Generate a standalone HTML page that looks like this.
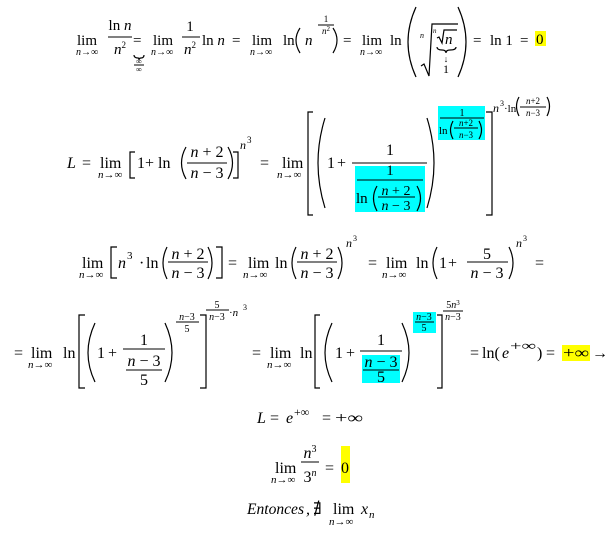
<!DOCTYPE html>
<html><head><meta charset="utf-8"><style>
html,body{margin:0;padding:0;background:#fff;}
svg{display:block;}
text{font-family:"Liberation Serif","DejaVu Serif",serif;fill:#000;}
.i{font-style:italic;}
path{fill:none;stroke:#000;stroke-width:1.2;}
line{stroke:#000;stroke-width:1;}
</style></head><body>
<svg width="614" height="535" viewBox="0 0 614 535" xmlns="http://www.w3.org/2000/svg">
<rect width="614" height="535" fill="#fff"/>

<!-- ROW 1 -->
<g font-size="15">
<text x="77" y="45">lim</text>
<text x="76" y="55" font-size="10"><tspan class="i">n</tspan>→∞</text>
<text x="120" y="30" text-anchor="middle">ln <tspan class="i">n</tspan></text>
<line x1="108" y1="37" x2="132" y2="37"/>
<text x="120" y="54" text-anchor="middle"><tspan class="i">n</tspan><tspan font-size="9" dy="-6">2</tspan></text>
<text x="133" y="45">=</text>
<path d="M134,55 Q134,58 138,58 Q139,58 139,60 Q139,58 141,58 Q144,58 144,55" stroke-width="0.8"/>
<text x="139" y="64" font-size="8" text-anchor="middle">∞</text>
<line x1="134" y1="65" x2="144" y2="65"/>
<text x="139" y="72" font-size="8" text-anchor="middle">∞</text>
<text x="153" y="45">lim</text>
<text x="151" y="55" font-size="10"><tspan class="i">n</tspan>→∞</text>
<text x="190" y="31" text-anchor="middle">1</text>
<line x1="182" y1="37" x2="200" y2="37"/>
<text x="190" y="54" text-anchor="middle"><tspan class="i">n</tspan><tspan font-size="9" dy="-6">2</tspan></text>
<text x="202" y="45">ln <tspan class="i">n</tspan></text>
<text x="232" y="45">=</text>
<text x="252" y="45">lim</text>
<text x="250" y="55" font-size="10"><tspan class="i">n</tspan>→∞</text>
<text x="283" y="45">ln</text>
<path d="M300,28 Q292,40 300,53"/>
<text x="305" y="45" class="i">n</text>
<text x="326" y="22" font-size="9" text-anchor="middle">1</text>
<line x1="318" y1="25" x2="334" y2="25"/>
<text x="326" y="34" font-size="9" text-anchor="middle"><tspan class="i">n</tspan><tspan font-size="7" dy="-3">2</tspan></text>
<path d="M333,28 Q341,40 333,53"/>
<text x="343" y="45">=</text>
<text x="362" y="45">lim</text>
<text x="360" y="55" font-size="10"><tspan class="i">n</tspan>→∞</text>
<text x="390" y="45">ln</text>
<path d="M416,7 Q400,42 416,77" stroke-width="1.4"/>
<text x="420" y="38" font-size="8" class="i">n</text>
<path d="M421,66 L424,64 L429,76 L432,24 L458,24" stroke-width="1"/>
<text x="433" y="33" font-size="7" class="i">n</text>
<path d="M437,38 L439,37 L442,43 L444,30 L457,30" stroke-width="0.9"/>
<text x="445" y="44" class="i">n</text>
<path d="M437,47 Q437,50 442,50 Q446,50 446,53 Q446,50 450,50 Q456,50 456,47" stroke-width="0.8"/>
<text x="446" y="62" font-size="9" text-anchor="middle">↓</text>
<text x="446" y="73" font-size="12" text-anchor="middle">1</text>
<path d="M458,7 Q474,42 458,77" stroke-width="1.4"/>
<text x="473" y="45">=</text>
<text x="490" y="45">ln 1</text>
<text x="520" y="45">=</text>
<rect x="535" y="31" width="11" height="15" fill="#ffff00"/>
<text x="536" y="44" fill="#222">0</text>
</g>

<!-- ROW 2 -->
<g font-size="16">
<text x="67" y="168" class="i">L</text>
<text x="82" y="168">=</text>
<text x="100" y="168">lim</text>
<text x="98" y="178" font-size="11"><tspan class="i">n</tspan>→∞</text>
<path d="M135,152 H130 V178 H135"/>
<text x="137" y="168">1</text>
<text x="145" y="168">+</text>
<text x="158" y="168">ln</text>
<path d="M186,147 Q177,163 186,179"/>
<text x="207" y="157" text-anchor="middle"><tspan class="i">n</tspan> + 2</text>
<line x1="187" y1="163" x2="227" y2="163"/>
<text x="207" y="178" text-anchor="middle"><tspan class="i">n</tspan> − 3</text>
<path d="M228,147 Q237,163 228,179"/>
<path d="M233,152 H238 V178 H233"/>
<text x="240" y="149" font-size="12" class="i">n</text>
<text x="247" y="143" font-size="9">3</text>
<text x="260" y="168">=</text>
<text x="282" y="168">lim</text>
<text x="277" y="178" font-size="11"><tspan class="i">n</tspan>→∞</text>
<path d="M313,112 H308 V215 H313" stroke-width="1.3"/>
<path d="M325,118 Q311,163 325,208" stroke-width="1.4"/>
<text x="327" y="168">1</text>
<text x="337" y="168">+</text>
<text x="390" y="155" text-anchor="middle">1</text>
<line x1="352" y1="163" x2="427" y2="163"/>
<rect x="355" y="166" width="70" height="46" fill="#00ffff"/>
<text x="390" y="175" text-anchor="middle" font-size="15">1</text>
<line x1="357" y1="180" x2="423" y2="180"/>
<text x="356" y="203" font-size="15">ln</text>
<path d="M377,186 Q370,198 377,211"/>
<text x="396" y="195" font-size="14" text-anchor="middle"><tspan class="i">n</tspan> + 2</text>
<line x1="378" y1="197" x2="415" y2="197"/>
<text x="396" y="210" font-size="14" text-anchor="middle"><tspan class="i">n</tspan> − 3</text>
<path d="M417,186 Q424,198 417,211"/>
<path d="M427,118 Q441,163 427,208" stroke-width="1.4"/>
<rect x="438" y="106" width="47" height="34" fill="#00ffff"/>
<text x="462" y="116" font-size="10" text-anchor="middle">1</text>
<line x1="440" y1="118" x2="484" y2="118"/>
<text x="439" y="134" font-size="11">ln</text>
<path d="M453,121 Q448,130 453,139" stroke-width="0.9"/>
<text x="466" y="126" font-size="9" text-anchor="middle"><tspan class="i">n</tspan>+2</text>
<line x1="454" y1="128" x2="478" y2="128"/>
<text x="466" y="138" font-size="9" text-anchor="middle"><tspan class="i">n</tspan>−3</text>
<path d="M479,121 Q484,130 479,139" stroke-width="0.9"/>
<path d="M486,112 H492 V215 H486" stroke-width="1.3"/>
<text x="493" y="112" font-size="12" class="i">n</text>
<text x="500" y="106" font-size="8">3</text>
<text x="504" y="112" font-size="11">·ln</text>
<path d="M519,97 Q514,106 519,116" stroke-width="0.9"/>
<text x="533" y="104" font-size="9" text-anchor="middle"><tspan class="i">n</tspan>+2</text>
<line x1="520" y1="107" x2="546" y2="107"/>
<text x="533" y="116" font-size="9" text-anchor="middle"><tspan class="i">n</tspan>−3</text>
<path d="M547,97 Q552,106 547,116" stroke-width="0.9"/>
</g>

<!-- ROW 3 -->
<g font-size="16">
<text x="82" y="268">lim</text>
<text x="79" y="278" font-size="11"><tspan class="i">n</tspan>→∞</text>
<path d="M117,247 H111 V278 H117"/>
<text x="118" y="268" class="i">n</text>
<text x="127" y="259" font-size="11">3</text>
<text x="139" y="268">·</text>
<text x="146" y="268">ln</text>
<path d="M167,247 Q159,263 167,279"/>
<text x="188" y="259" text-anchor="middle"><tspan class="i">n</tspan> + 2</text>
<line x1="168" y1="262" x2="208" y2="262"/>
<text x="188" y="278" text-anchor="middle"><tspan class="i">n</tspan> − 3</text>
<path d="M208,247 Q216,263 208,279"/>
<path d="M216,247 H222 V278 H216"/>
<text x="228" y="268">=</text>
<text x="248" y="268">lim</text>
<text x="243" y="278" font-size="11"><tspan class="i">n</tspan>→∞</text>
<text x="275" y="268">ln</text>
<path d="M296,247 Q288,263 296,279"/>
<text x="317" y="259" text-anchor="middle"><tspan class="i">n</tspan> + 2</text>
<line x1="297" y1="262" x2="337" y2="262"/>
<text x="317" y="278" text-anchor="middle"><tspan class="i">n</tspan> − 3</text>
<path d="M338,247 Q346,263 338,279"/>
<text x="346" y="247" font-size="12" class="i">n</text>
<text x="353" y="241" font-size="8">3</text>
<text x="368" y="268">=</text>
<text x="386" y="268">lim</text>
<text x="382" y="278" font-size="11"><tspan class="i">n</tspan>→∞</text>
<text x="416" y="268">ln</text>
<path d="M437,247 Q429,263 437,279"/>
<text x="439" y="268">1</text>
<text x="448" y="268">+</text>
<text x="487" y="259" text-anchor="middle">5</text>
<line x1="467" y1="262" x2="508" y2="262"/>
<text x="487" y="278" text-anchor="middle"><tspan class="i">n</tspan> − 3</text>
<path d="M509,247 Q517,263 509,279"/>
<text x="516" y="247" font-size="12" class="i">n</text>
<text x="523" y="241" font-size="8">3</text>
<text x="535" y="268">=</text>
</g>

<!-- ROW 4 -->
<g font-size="16">
<text x="14" y="358">=</text>
<text x="31" y="358">lim</text>
<text x="28" y="368" font-size="11"><tspan class="i">n</tspan>→∞</text>
<text x="63" y="358">ln</text>
<path d="M85,315 H79 V388 H85" stroke-width="1.3"/>
<path d="M95,323 Q81,353 95,382" stroke-width="1.4"/>
<text x="97" y="358">1</text>
<text x="108" y="358">+</text>
<text x="144" y="345" text-anchor="middle">1</text>
<line x1="123" y1="349" x2="165" y2="349"/>
<text x="144" y="366" text-anchor="middle"><tspan class="i">n</tspan> − 3</text>
<line x1="126" y1="370" x2="162" y2="370"/>
<text x="144" y="385" text-anchor="middle">5</text>
<path d="M165,323 Q179,353 165,382" stroke-width="1.4"/>
<text x="187" y="320" font-size="10" text-anchor="middle"><tspan class="i">n</tspan>−3</text>
<line x1="176" y1="322" x2="199" y2="322"/>
<text x="187" y="332" font-size="10" text-anchor="middle">5</text>
<path d="M200,315 H206 V388 H200" stroke-width="1.3"/>
<text x="217" y="308" font-size="10" text-anchor="middle">5</text>
<line x1="206" y1="310" x2="229" y2="310"/>
<text x="217" y="320" font-size="10" text-anchor="middle"><tspan class="i">n</tspan>−3</text>
<text x="229" y="316" font-size="11">·<tspan class="i">n</tspan></text>
<text x="243" y="310" font-size="8">3</text>
<text x="252" y="358">=</text>
<text x="270" y="358">lim</text>
<text x="267" y="368" font-size="11"><tspan class="i">n</tspan>→∞</text>
<text x="300" y="358">ln</text>
<path d="M320,315 H315 V388 H320" stroke-width="1.3"/>
<path d="M332,323 Q318,353 332,382" stroke-width="1.4"/>
<text x="335" y="358">1</text>
<text x="346" y="358">+</text>
<text x="381" y="345" text-anchor="middle">1</text>
<line x1="360" y1="351" x2="402" y2="351"/>
<rect x="362" y="355" width="38" height="28" fill="#00ffff"/>
<text x="381" y="367" text-anchor="middle"><tspan class="i">n</tspan> − 3</text>
<line x1="363" y1="370" x2="399" y2="370"/>
<text x="381" y="382" text-anchor="middle">5</text>
<path d="M402,323 Q416,353 402,382" stroke-width="1.4"/>
<rect x="413" y="312" width="23" height="21" fill="#00ffff"/>
<text x="424" y="320" font-size="10" text-anchor="middle"><tspan class="i">n</tspan>−3</text>
<line x1="415" y1="322" x2="434" y2="322"/>
<text x="424" y="331" font-size="10" text-anchor="middle">5</text>
<path d="M437,315 H442 V388 H437" stroke-width="1.3"/>
<text x="453" y="308" font-size="10" text-anchor="middle">5<tspan class="i">n</tspan><tspan font-size="7" dy="-3">3</tspan></text>
<line x1="443" y1="311" x2="463" y2="311"/>
<text x="453" y="320" font-size="10" text-anchor="middle"><tspan class="i">n</tspan>−3</text>
<text x="470" y="358">=</text>
<text x="482" y="358">ln(</text>
<text x="502" y="358" class="i">e</text>
<text x="510" y="350" font-size="13" textLength="26" lengthAdjust="spacingAndGlyphs">+∞</text>
<text x="537" y="358">)</text>
<text x="546" y="358">=</text>
<rect x="562" y="345" width="28" height="16" fill="#ffff00"/>
<text x="563" y="358" fill="#222" textLength="26" lengthAdjust="spacingAndGlyphs">+∞</text>
<text x="592" y="358">→</text>
</g>

<!-- ROW 5-7 -->
<g font-size="16">
<text x="257" y="423" class="i">L</text>
<text x="270" y="423">=</text>
<text x="286" y="423" class="i">e</text>
<text x="294" y="416" font-size="12">+∞</text>
<text x="322" y="423">=</text>
<text x="335" y="423" textLength="28" lengthAdjust="spacingAndGlyphs">+∞</text>

<text x="275" y="473">lim</text>
<text x="271" y="483" font-size="11"><tspan class="i">n</tspan>→∞</text>
<text x="310" y="458" text-anchor="middle"><tspan class="i">n</tspan><tspan font-size="10" dy="-6">3</tspan></text>
<line x1="301" y1="462" x2="319" y2="462"/>
<text x="310" y="482" text-anchor="middle">3<tspan class="i" font-size="10" dy="-6">n</tspan></text>
<text x="325" y="473">=</text>
<rect x="341" y="446" width="9" height="37" fill="#ffff00"/>
<text x="341" y="473" fill="#222">0</text>

<text x="247" y="514" class="i" textLength="57" lengthAdjust="spacingAndGlyphs">Entonces</text>
<text x="306" y="514" class="i">,</text>
<text x="313" y="514">∄</text>
<text x="333" y="514">lim</text>
<text x="329" y="525" font-size="11"><tspan class="i">n</tspan>→∞</text>
<text x="361" y="514" class="i">x</text>
<text x="369" y="518" font-size="11" class="i">n</text>
</g>
</svg>
</body></html>
